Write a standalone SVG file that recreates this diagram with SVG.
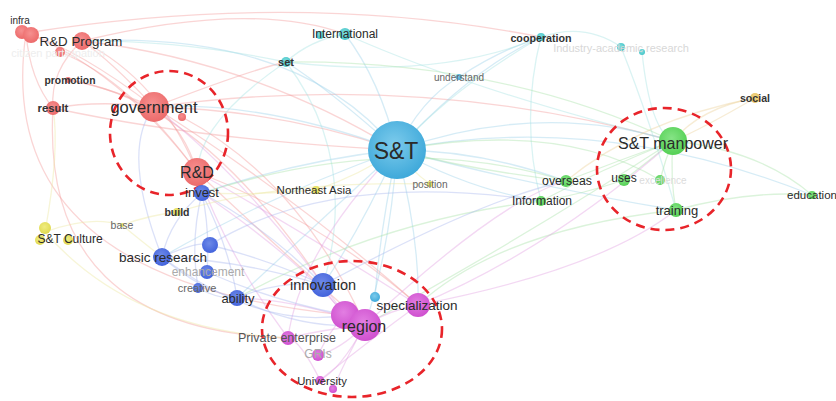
<svg xmlns="http://www.w3.org/2000/svg" width="836" height="401" viewBox="0 0 836 401">
<defs>
<radialGradient id="gRed" cx="45%" cy="40%" r="60%"><stop offset="0" stop-color="#f69090"/><stop offset="1" stop-color="#ec6a6a"/></radialGradient>
<radialGradient id="gSky" cx="45%" cy="40%" r="60%"><stop offset="0" stop-color="#7ccbec"/><stop offset="1" stop-color="#3fa9da"/></radialGradient>
<radialGradient id="gCyan" cx="45%" cy="40%" r="60%"><stop offset="0" stop-color="#7fdede"/><stop offset="1" stop-color="#45c4c8"/></radialGradient>
<radialGradient id="gGreen" cx="45%" cy="40%" r="60%"><stop offset="0" stop-color="#86e486"/><stop offset="1" stop-color="#55d055"/></radialGradient>
<radialGradient id="gMag" cx="45%" cy="40%" r="60%"><stop offset="0" stop-color="#e27ee2"/><stop offset="1" stop-color="#cf50cf"/></radialGradient>
<radialGradient id="gBlue" cx="45%" cy="40%" r="60%"><stop offset="0" stop-color="#6e8ae8"/><stop offset="1" stop-color="#4363dc"/></radialGradient>
<radialGradient id="gYel" cx="45%" cy="40%" r="60%"><stop offset="0" stop-color="#f0ec80"/><stop offset="1" stop-color="#e0da50"/></radialGradient>
<radialGradient id="gOra" cx="45%" cy="40%" r="60%"><stop offset="0" stop-color="#f2d88a"/><stop offset="1" stop-color="#e6c060"/></radialGradient>
</defs>
<style>
.e{fill:none;stroke-width:1.3;stroke-opacity:0.42}
.r{stroke:#f29a9a}.s{stroke:#9dd2ea}.g{stroke:#a9e3a9}.m{stroke:#e2a2e2}.b{stroke:#a9b8ee}.y{stroke:#ece6a0}.o{stroke:#ecd29a}.c{stroke:#a6e2e2}
text{font-family:"Liberation Sans",Arial,sans-serif;fill:#2a2a2a;text-anchor:middle;dominant-baseline:central}
.bd{font-weight:bold;fill:#333}
.gr{fill:#666}.lg{fill:#aaa}.vl{fill:#d8d8d8}
.dash{fill:none;stroke:#e8242a;stroke-width:2.6;stroke-dasharray:9 6}
</style>
<rect width="836" height="401" fill="#fff"/>
<g id="connectors">
<path class="e r" d="M154,107 Q185,130 197,172"/>
<path class="e r" d="M154,107 Q100,100 53,108"/>
<path class="e r" d="M154,107 Q110,60 82,41"/>
<path class="e r" d="M154,107 Q80,50 26,33"/>
<path class="e r" d="M154,107 Q100,85 68,80"/>
<path class="e r" d="M82,41 Q50,70 53,108"/>
<path class="e r" d="M26,33 Q30,80 53,108"/>
<path class="e r" d="M26,33 Q120,70 197,172"/>
<path class="e r" d="M82,41 Q160,80 197,172"/>
<path class="e r" d="M60,52 Q130,80 197,172"/>
<path class="e r" d="M82,41 Q250,60 397,150"/>
<path class="e r" d="M154,107 Q280,110 397,150"/>
<path class="e r" d="M197,172 Q280,250 365,325"/>
<path class="e r" d="M197,172 Q320,220 418,305"/>
<path class="e r" d="M154,107 Q300,200 418,305"/>
<path class="e r" d="M182,117 Q300,180 365,325"/>
<path class="e r" d="M53,108 Q40,330 288,338"/>
<path class="e r" d="M26,33 Q-10,280 345,315"/>
<path class="e r" d="M26,33 Q300,-10 541,37"/>
<path class="e r" d="M82,41 Q250,0 345,34"/>
<path class="e r" d="M154,107 Q250,70 286,62"/>
<path class="e r" d="M154,107 Q420,70 673,141"/>
<path class="e r" d="M53,108 Q200,140 397,150"/>
<path class="e r" d="M68,80 Q200,100 323,285"/>
<path class="e s" d="M397,150 Q380,80 345,34"/>
<path class="e s" d="M397,150 Q330,90 286,62"/>
<path class="e s" d="M397,150 Q420,100 459,77"/>
<path class="e s" d="M397,150 Q470,70 541,37"/>
<path class="e s" d="M397,150 Q540,100 673,141"/>
<path class="e s" d="M397,150 Q480,150 566,181"/>
<path class="e s" d="M397,150 Q470,190 541,201"/>
<path class="e s" d="M397,150 Q360,230 323,285"/>
<path class="e s" d="M397,150 Q390,250 365,325"/>
<path class="e s" d="M397,150 Q300,160 202,193"/>
<path class="e s" d="M397,150 Q260,200 162,257"/>
<path class="e s" d="M397,150 Q300,240 237,298"/>
<path class="e s" d="M397,150 Q600,110 812,195"/>
<path class="e s" d="M397,150 Q550,190 676,210"/>
<path class="e s" d="M397,150 Q260,100 154,107"/>
<path class="e s" d="M397,150 Q380,230 375,297"/>
<path class="e s" d="M397,150 Q420,240 418,305"/>
<path class="e s" d="M397,150 Q300,30 82,41"/>
<path class="e c" d="M345,34 Q310,40 286,62"/>
<path class="e c" d="M345,34 Q470,90 673,141"/>
<path class="e c" d="M286,62 Q180,40 82,41"/>
<path class="e c" d="M286,62 Q200,120 197,172"/>
<path class="e c" d="M286,62 Q360,160 323,285"/>
<path class="e s" d="M459,77 Q500,50 541,37"/>
<path class="e c" d="M541,37 Q520,120 541,201"/>
<path class="e c" d="M541,37 Q450,90 397,150"/>
<path class="e c" d="M621,47 Q650,120 676,210"/>
<path class="e c" d="M642,52 Q650,130 673,141"/>
<path class="e c" d="M541,37 Q585,22 621,47"/>
<path class="e c" d="M541,37 Q440,80 286,62"/>
<path class="e g" d="M673,141 Q650,160 624,180"/>
<path class="e g" d="M673,141 Q665,160 660,180"/>
<path class="e g" d="M673,141 Q670,180 676,210"/>
<path class="e g" d="M673,141 Q620,160 566,181"/>
<path class="e g" d="M673,141 Q600,170 541,201"/>
<path class="e g" d="M673,141 Q760,150 812,195"/>
<path class="e g" d="M676,210 Q750,190 812,195"/>
<path class="e g" d="M624,180 Q580,195 541,201"/>
<path class="e g" d="M566,181 Q470,170 397,150"/>
<path class="e g" d="M673,141 Q520,240 365,325"/>
<path class="e g" d="M676,210 Q500,230 418,305"/>
<path class="e g" d="M673,141 Q500,60 286,62"/>
<path class="e g" d="M566,181 Q400,130 202,193"/>
<path class="e g" d="M541,201 Q380,220 237,298"/>
<path class="e g" d="M660,180 Q560,120 397,150"/>
<path class="e o" d="M755,98 Q700,130 673,141"/>
<path class="e o" d="M755,98 Q700,108 673,141"/>
<path class="e o" d="M755,98 Q640,120 566,181"/>
<path class="e m" d="M365,325 Q390,310 418,305"/>
<path class="e m" d="M365,325 Q320,330 288,338"/>
<path class="e m" d="M365,325 Q340,350 318,355"/>
<path class="e m" d="M365,325 Q340,370 320,380"/>
<path class="e m" d="M345,315 Q330,300 323,285"/>
<path class="e m" d="M365,325 Q300,300 237,298"/>
<path class="e m" d="M345,315 Q300,260 202,193"/>
<path class="e m" d="M418,305 Q300,230 197,172"/>
<path class="e m" d="M288,338 Q230,260 197,172"/>
<path class="e m" d="M320,380 Q300,340 288,338"/>
<path class="e m" d="M318,355 Q330,330 345,315"/>
<path class="e m" d="M333,389 Q350,350 365,325"/>
<path class="e m" d="M418,305 Q550,250 673,141"/>
<path class="e m" d="M365,325 Q500,200 566,181"/>
<path class="e m" d="M345,315 Q250,180 154,107"/>
<path class="e m" d="M418,305 Q370,340 320,380"/>
<path class="e m" d="M288,338 Q300,250 397,150"/>
<path class="e m" d="M418,305 Q600,270 676,210"/>
<path class="e b" d="M202,193 Q170,220 162,257"/>
<path class="e b" d="M202,193 Q230,250 237,298"/>
<path class="e b" d="M202,193 Q190,240 198,288"/>
<path class="e b" d="M202,193 Q210,230 207,272"/>
<path class="e b" d="M202,193 Q270,230 323,285"/>
<path class="e b" d="M162,257 Q240,260 323,285"/>
<path class="e b" d="M162,257 Q200,290 237,298"/>
<path class="e b" d="M237,298 Q280,280 323,285"/>
<path class="e b" d="M210,245 Q270,260 323,285"/>
<path class="e b" d="M198,288 Q220,300 237,298"/>
<path class="e b" d="M207,272 Q270,300 345,315"/>
<path class="e b" d="M162,257 Q260,330 345,315"/>
<path class="e b" d="M237,298 Q300,330 365,325"/>
<path class="e b" d="M162,257 Q200,240 210,245"/>
<path class="e b" d="M210,245 Q330,170 541,201"/>
<path class="e b" d="M323,285 Q480,200 566,181"/>
<path class="e b" d="M162,257 Q120,150 154,107"/>
<path class="e y" d="M45,232 Q90,215 122,225"/>
<path class="e y" d="M122,225 Q150,215 177,212"/>
<path class="e y" d="M122,225 Q140,240 162,257"/>
<path class="e y" d="M45,232 Q130,330 288,338"/>
<path class="e y" d="M316,190 Q260,195 202,193"/>
<path class="e y" d="M430,184 Q410,170 397,150"/>
<path class="e y" d="M177,212 Q280,180 430,184"/>
<path class="e y" d="M45,232 Q60,150 53,108"/>
<path class="e y" d="M316,190 Q360,175 397,150"/>
</g>
<g id="circles">
<ellipse class="dash" cx="169" cy="133" rx="59" ry="62"/>
<ellipse class="dash" cx="664" cy="169" rx="67" ry="61"/>
<ellipse class="dash" cx="352" cy="329" rx="90" ry="68"/>
</g>
<g id="n-infra"><circle cx="22" cy="32" r="7" fill="url(#gRed)"/><circle cx="31" cy="35" r="8" fill="url(#gRed)"/><text x="20" y="20" font-size="10">infra</text></g>
<g id="n-citizen"><circle cx="60" cy="52" r="5" fill="url(#gRed)"/><text x="58" y="53" font-size="11" style="fill:#eeeeee">citizen participation</text></g>
<g id="n-rdprogram"><circle cx="82" cy="41" r="9" fill="url(#gRed)"/><text x="81" y="41" font-size="13.3">R&amp;D Program</text></g>
<g id="n-promotion"><circle cx="68" cy="80" r="3" fill="url(#gRed)"/><text x="70" y="80" font-size="10.3" class="bd">promotion</text></g>
<g id="n-result"><circle cx="53" cy="108" r="7" fill="url(#gRed)"/><text x="53" y="108" font-size="11.3" class="bd">result</text></g>
<g id="n-government"><circle cx="154" cy="107" r="15" fill="url(#gRed)"/><circle cx="182" cy="117" r="4" fill="url(#gRed)"/><text x="154" y="107" font-size="16.5">government</text></g>
<g id="n-rd"><circle cx="197" cy="172" r="14" fill="url(#gRed)"/><text x="197" y="172" font-size="16">R&amp;D</text></g>
<g id="n-invest"><circle cx="202" cy="193" r="8" fill="url(#gBlue)"/><text x="202" y="192" font-size="13">invest</text></g>
<g id="n-build"><circle cx="177" cy="212" r="4" fill="url(#gYel)"/><text x="177" y="212" font-size="10.5" class="bd">build</text></g>
<g id="n-culture"><circle cx="45" cy="228" r="6" fill="url(#gYel)"/><circle cx="40" cy="240" r="5" fill="url(#gYel)"/><circle cx="68" cy="240" r="5" fill="url(#gYel)"/><text x="70" y="239" font-size="12">S&amp;T Culture</text></g>
<g id="n-base"><circle cx="122" cy="225" r="2" fill="url(#gYel)"/><text x="122" y="225" font-size="10.5" class="gr">base</text></g>
<g id="n-basic"><circle cx="162" cy="257" r="9" fill="url(#gBlue)"/><circle cx="210" cy="245" r="8" fill="url(#gBlue)"/><text x="163" y="257" font-size="13.5">basic research</text></g>
<g id="n-enh"><circle cx="207" cy="272" r="7" fill="url(#gBlue)"/><text x="208" y="272" font-size="12" class="lg">enhancement</text></g>
<g id="n-creative"><circle cx="198" cy="288" r="5" fill="url(#gBlue)"/><text x="197" y="288" font-size="11" class="gr">creative</text></g>
<g id="n-ability"><circle cx="237" cy="298" r="8" fill="url(#gBlue)"/><text x="238" y="298" font-size="13">ability</text></g>
<g id="n-innovation"><circle cx="323" cy="285" r="12" fill="url(#gBlue)"/><text x="323" y="285" font-size="14.5">innovation</text></g>
<g id="n-cy"><circle cx="375" cy="297" r="5" fill="url(#gSky)"/></g>
<g id="n-special"><circle cx="418" cy="305" r="12" fill="url(#gMag)"/><text x="417" y="305" font-size="13.5">specialization</text></g>
<g id="n-region"><circle cx="345" cy="315" r="14" fill="url(#gMag)"/><circle cx="365" cy="325" r="16" fill="url(#gMag)"/><text x="364" y="326" font-size="16">region</text></g>
<g id="n-private"><circle cx="288" cy="338" r="7" fill="url(#gMag)"/><text x="287" y="338" font-size="12.5" style="fill:#555">Private enterprise</text></g>
<g id="n-gris"><circle cx="318" cy="355" r="6" fill="url(#gMag)"/><text x="318" y="354" font-size="12" class="lg">GRIs</text></g>
<g id="n-univ"><circle cx="320" cy="380" r="4" fill="url(#gMag)"/><circle cx="333" cy="389" r="4" fill="url(#gMag)"/><text x="322" y="381" font-size="11.3">University</text></g>
<g id="n-st"><circle cx="397" cy="150" r="29" fill="url(#gSky)"/><text x="396" y="151" font-size="23">S&amp;T</text></g>
<g id="n-intl"><circle cx="320" cy="35" r="4" fill="url(#gCyan)"/><circle cx="345" cy="34" r="6" fill="url(#gCyan)"/><text x="345" y="34" font-size="12">International</text></g>
<g id="n-set"><circle cx="286" cy="62" r="5" fill="url(#gCyan)"/><text x="286" y="62" font-size="11" class="bd">set</text></g>
<g id="n-understand"><circle cx="459" cy="77" r="3" fill="url(#gSky)"/><text x="459" y="77" font-size="10" class="gr">understand</text></g>
<g id="n-coop"><circle cx="541" cy="37" r="4" fill="url(#gCyan)"/><text x="541" y="38" font-size="10.7" class="bd">cooperation</text></g>
<g id="n-iar"><circle cx="621" cy="47" r="4" fill="url(#gCyan)"/><circle cx="642" cy="52" r="3" fill="url(#gCyan)"/><text x="621" y="48" font-size="11" class="vl">Industry-academic research</text></g>
<g id="n-northeast"><circle cx="316" cy="190" r="4" fill="url(#gYel)"/><text x="314" y="190" font-size="11.5">Northeast Asia</text></g>
<g id="n-position"><circle cx="430" cy="184" r="3" fill="url(#gYel)"/><text x="430" y="184" font-size="10.2" class="gr">position</text></g>
<g id="n-overseas"><circle cx="566" cy="181" r="6" fill="url(#gGreen)"/><text x="567" y="181" font-size="12.3">overseas</text></g>
<g id="n-information"><circle cx="541" cy="201" r="5" fill="url(#gGreen)"/><text x="542" y="201" font-size="12">Information</text></g>
<g id="n-social"><circle cx="755" cy="98" r="5" fill="url(#gOra)"/><text x="755" y="98" font-size="10.6" class="bd">social</text></g>
<g id="n-manpower"><circle cx="673" cy="141" r="14" fill="url(#gGreen)"/><text x="673" y="143" font-size="16">S&amp;T manpower</text></g>
<g id="n-excellence"><circle cx="660" cy="180" r="5" fill="url(#gGreen)"/><text x="663" y="180" font-size="10" style="fill:#dcdcdc">excellence</text></g>
<g id="n-uses"><circle cx="624" cy="180" r="6" fill="url(#gGreen)"/><text x="624" y="178" font-size="12">uses</text></g>
<g id="n-training"><circle cx="676" cy="210" r="7" fill="url(#gGreen)"/><text x="677" y="210" font-size="13">training</text></g>
<g id="n-education"><circle cx="812" cy="195" r="4" fill="url(#gGreen)"/><text x="812" y="195" font-size="11.5">education</text></g>
</svg>
